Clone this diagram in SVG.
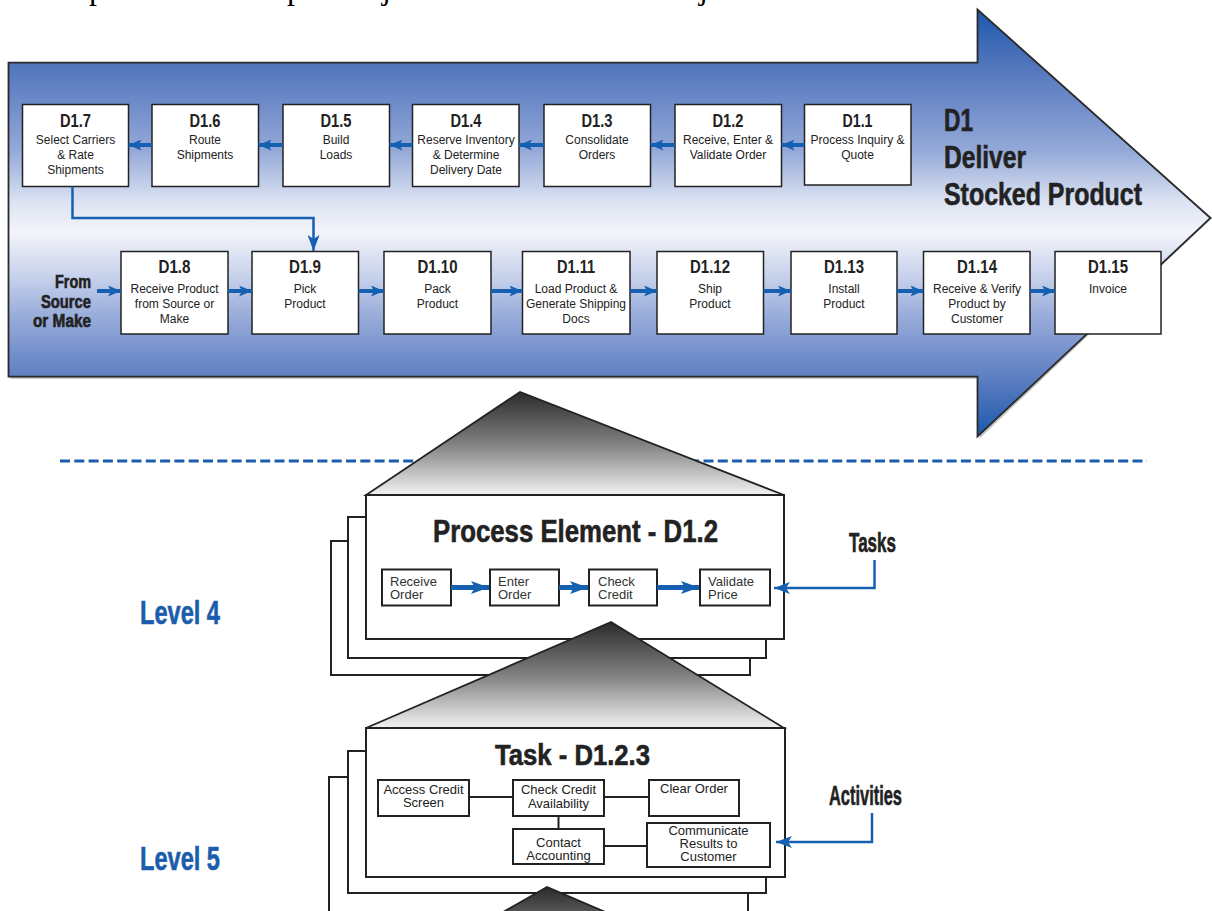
<svg xmlns="http://www.w3.org/2000/svg" width="1212" height="911" viewBox="0 0 1212 911">
<defs>
<linearGradient id="chev" gradientUnits="userSpaceOnUse" x1="0" y1="9.5" x2="0" y2="436.5">
<stop offset="0" stop-color="#1a59ad"/>
<stop offset="0.12" stop-color="#4e73ba"/>
<stop offset="0.2" stop-color="#6886c6"/>
<stop offset="0.33" stop-color="#94a9d8"/>
<stop offset="0.45" stop-color="#dbe2f2"/>
<stop offset="0.52" stop-color="#f4f5fa"/>
<stop offset="0.62" stop-color="#c9d3ec"/>
<stop offset="0.72" stop-color="#98acda"/>
<stop offset="0.82" stop-color="#6e8bc9"/>
<stop offset="0.87" stop-color="#5a7cc0"/>
<stop offset="1" stop-color="#1a59ad"/>
</linearGradient>
<linearGradient id="tri" x1="0" y1="0" x2="0" y2="1">
<stop offset="0" stop-color="#2b2b2b"/>
<stop offset="0.5" stop-color="#808080"/>
<stop offset="1" stop-color="#f2f2f2"/>
</linearGradient>
<marker id="ah" markerUnits="userSpaceOnUse" markerWidth="13" markerHeight="11" refX="13" refY="5.5" orient="auto">
<path d="M0,0 L13,5.5 L0,11 L3,5.5 Z" fill="#1560b0"/>
</marker>
<marker id="ahBig" markerUnits="userSpaceOnUse" markerWidth="18" markerHeight="13" refX="18" refY="6.5" orient="auto">
<path d="M0,0 L18,6.5 L0,13 L4,6.5 Z" fill="#1560b0"/>
</marker>
<marker id="ahThin" markerUnits="userSpaceOnUse" markerWidth="16" markerHeight="12" refX="16" refY="6" orient="auto">
<path d="M0,0 L16,6 L0,12 L4,6 Z" fill="#1560b0"/>
</marker>
<style>
.box{fill:#fff;stroke:#222;stroke-width:1.5}
.pbox{fill:#fff;stroke:#222;stroke-width:2}
.lbl{font-family:"Liberation Sans Narrow","Liberation Sans",Arial,sans-serif;font-weight:bold;font-size:19px;fill:#222;text-anchor:middle}
.bt{font-family:"Liberation Sans",Arial,sans-serif;font-size:12px;fill:#222;text-anchor:middle}
.big{font-family:"Liberation Sans Narrow","Liberation Sans",Arial,sans-serif;font-weight:bold;fill:#222;stroke:#222;stroke-width:0.6}
.lvl{font-family:"Liberation Sans Narrow","Liberation Sans",Arial,sans-serif;font-weight:bold;font-size:33px;fill:#1b5cad;stroke:#1b5cad;stroke-width:0.6}
.it{font-family:"Liberation Sans",Arial,sans-serif;font-size:13px;fill:#333}
.itc{font-family:"Liberation Sans",Arial,sans-serif;font-size:13px;fill:#222;text-anchor:middle}
.flow{fill:none;stroke:#1560b0;stroke-width:4;marker-end:url(#ah)}
.fat{fill:none;stroke:#1560b0;stroke-width:5;marker-end:url(#ahBig)}
.thin{fill:none;stroke:#1560b0;stroke-width:2.5;marker-end:url(#ahThin)}
.link{fill:none;stroke:#222;stroke-width:2}
.frag{font-family:"Liberation Serif","Times New Roman",serif;font-size:32px;fill:#000}
</style>
</defs>
<rect width="1212" height="911" fill="#fff"/>

<g id="page-text-fragment">
<text class="frag" x="89" y="-1">p</text>
<text class="frag" x="287" y="-1">p</text>
<text class="frag" x="382" y="-1">j</text>
<text class="frag" x="699" y="-1">j</text>
</g>

<g id="chevron">
<path d="M10.5,64.7 L979.5,64.7 L979.5,11.5 L1212,218 L979.5,438.5 L979.5,378.7 L10.5,378.7 Z" fill="#999" opacity="0.6"/>
<path d="M8.5,62.7 L977.5,62.7 L977.5,9.5 L1210.5,218 L977.5,436.5 L977.5,376.7 L8.5,376.7 Z" fill="url(#chev)" stroke="#2a2a2a" stroke-width="1.8"/>
<text class="big" x="944" y="131" font-size="32" textLength="29" lengthAdjust="spacingAndGlyphs">D1</text>
<text class="big" x="944" y="168" font-size="32" textLength="82" lengthAdjust="spacingAndGlyphs">Deliver</text>
<text class="big" x="944" y="205" font-size="32" textLength="198" lengthAdjust="spacingAndGlyphs">Stocked Product</text>
<text class="big" x="91" y="288" font-size="18" text-anchor="end" textLength="36" lengthAdjust="spacingAndGlyphs">From</text>
<text class="big" x="91" y="307.5" font-size="18" text-anchor="end" textLength="50" lengthAdjust="spacingAndGlyphs">Source</text>
<text class="big" x="91" y="326.5" font-size="18" text-anchor="end" textLength="58" lengthAdjust="spacingAndGlyphs">or Make</text>
</g>

<g id="D1.7"><rect class="box" x="22.5" y="104.5" width="106" height="82"/>
<text class="lbl" x="75.5" y="126.5" textLength="31" lengthAdjust="spacingAndGlyphs">D1.7</text>
<text class="bt" x="75.5" y="144">Select Carriers</text><text class="bt" x="75.5" y="159">&amp; Rate</text><text class="bt" x="75.5" y="174">Shipments</text></g>
<g id="D1.6"><rect class="box" x="152" y="104.5" width="106.5" height="82"/>
<text class="lbl" x="205" y="126.5" textLength="31" lengthAdjust="spacingAndGlyphs">D1.6</text>
<text class="bt" x="205" y="144">Route</text><text class="bt" x="205" y="159">Shipments</text></g>
<g id="D1.5"><rect class="box" x="283" y="104.5" width="106.5" height="82"/>
<text class="lbl" x="336" y="126.5" textLength="31" lengthAdjust="spacingAndGlyphs">D1.5</text>
<text class="bt" x="336" y="144">Build</text><text class="bt" x="336" y="159">Loads</text></g>
<g id="D1.4"><rect class="box" x="412.5" y="104.5" width="106.5" height="82"/>
<text class="lbl" x="466" y="126.5" textLength="31" lengthAdjust="spacingAndGlyphs">D1.4</text>
<text class="bt" x="466" y="144">Reserve Inventory</text><text class="bt" x="466" y="159">&amp; Determine</text><text class="bt" x="466" y="174">Delivery Date</text></g>
<g id="D1.3"><rect class="box" x="544" y="104.5" width="106.5" height="82"/>
<text class="lbl" x="597" y="126.5" textLength="31" lengthAdjust="spacingAndGlyphs">D1.3</text>
<text class="bt" x="597" y="144">Consolidate</text><text class="bt" x="597" y="159">Orders</text></g>
<g id="D1.2"><rect class="box" x="675" y="104.5" width="106.5" height="82"/>
<text class="lbl" x="728" y="126.5" textLength="31" lengthAdjust="spacingAndGlyphs">D1.2</text>
<text class="bt" x="728" y="144">Receive, Enter &amp;</text><text class="bt" x="728" y="159">Validate Order</text></g>
<g id="D1.1"><rect class="box" x="804.5" y="104.5" width="106.5" height="80.5"/>
<text class="lbl" x="857.5" y="126.5" textLength="30" lengthAdjust="spacingAndGlyphs">D1.1</text>
<text class="bt" x="857.5" y="144">Process Inquiry &amp;</text><text class="bt" x="857.5" y="159">Quote</text></g>

<g id="D1.8"><rect class="box" x="121" y="251.5" width="107" height="82.5"/>
<text class="lbl" x="174.5" y="273" textLength="32" lengthAdjust="spacingAndGlyphs">D1.8</text>
<text class="bt" x="174.5" y="292.5">Receive Product</text><text class="bt" x="174.5" y="307.5">from Source or</text><text class="bt" x="174.5" y="322.5">Make</text></g>
<g id="D1.9"><rect class="box" x="252" y="251.5" width="106.5" height="82.5"/>
<text class="lbl" x="305" y="273" textLength="32" lengthAdjust="spacingAndGlyphs">D1.9</text>
<text class="bt" x="305" y="292.5">Pick</text><text class="bt" x="305" y="307.5">Product</text></g>
<g id="D1.10"><rect class="box" x="384" y="251.5" width="107" height="82.5"/>
<text class="lbl" x="437.5" y="273" textLength="40" lengthAdjust="spacingAndGlyphs">D1.10</text>
<text class="bt" x="437.5" y="292.5">Pack</text><text class="bt" x="437.5" y="307.5">Product</text></g>
<g id="D1.11"><rect class="box" x="522.5" y="251.5" width="107.5" height="82.5"/>
<text class="lbl" x="576" y="273" textLength="38" lengthAdjust="spacingAndGlyphs">D1.11</text>
<text class="bt" x="576" y="292.5">Load Product &amp;</text><text class="bt" x="576" y="307.5">Generate Shipping</text><text class="bt" x="576" y="322.5">Docs</text></g>
<g id="D1.12"><rect class="box" x="657" y="251.5" width="106.5" height="82.5"/>
<text class="lbl" x="710" y="273" textLength="40" lengthAdjust="spacingAndGlyphs">D1.12</text>
<text class="bt" x="710" y="292.5">Ship</text><text class="bt" x="710" y="307.5">Product</text></g>
<g id="D1.13"><rect class="box" x="791" y="251.5" width="106" height="82.5"/>
<text class="lbl" x="844" y="273" textLength="40" lengthAdjust="spacingAndGlyphs">D1.13</text>
<text class="bt" x="844" y="292.5">Install</text><text class="bt" x="844" y="307.5">Product</text></g>
<g id="D1.14"><rect class="box" x="923.5" y="251.5" width="106.5" height="82.5"/>
<text class="lbl" x="977" y="273" textLength="40" lengthAdjust="spacingAndGlyphs">D1.14</text>
<text class="bt" x="977" y="292.5">Receive &amp; Verify</text><text class="bt" x="977" y="307.5">Product by</text><text class="bt" x="977" y="322.5">Customer</text></g>
<g id="D1.15"><rect class="box" x="1055" y="251.5" width="106" height="82.5"/>
<text class="lbl" x="1108" y="273" textLength="40" lengthAdjust="spacingAndGlyphs">D1.15</text>
<text class="bt" x="1108" y="292.5">Invoice</text></g>

<g id="connectors-top">
<line class="flow" x1="804.5" y1="145" x2="781.5" y2="145"/>
<line class="flow" x1="675" y1="145" x2="650.5" y2="145"/>
<line class="flow" x1="544" y1="145" x2="519" y2="145"/>
<line class="flow" x1="412.5" y1="145" x2="389.5" y2="145"/>
<line class="flow" x1="283" y1="145" x2="258.5" y2="145"/>
<line class="flow" x1="152" y1="145" x2="128.5" y2="145"/>
<path class="thin" d="M72.5,186.5 V218 H313.5 V251"/>
<line class="flow" x1="97" y1="291" x2="121" y2="291"/>
<line class="flow" x1="228" y1="291" x2="252" y2="291"/>
<line class="flow" x1="358.5" y1="291" x2="384" y2="291"/>
<line class="flow" x1="491" y1="291" x2="522.5" y2="291"/>
<line class="flow" x1="630" y1="291" x2="657" y2="291"/>
<line class="flow" x1="763.5" y1="291" x2="791" y2="291"/>
<line class="flow" x1="897" y1="291" x2="923.5" y2="291"/>
<line class="flow" x1="1030" y1="291" x2="1055" y2="291"/>
</g>

<g id="divider">
<line x1="60" y1="461" x2="1147" y2="461" stroke="#1b5cad" stroke-width="3" stroke-dasharray="10,4.3"/>
</g>

<g id="level-labels">
<text class="lvl" x="140" y="624" textLength="80" lengthAdjust="spacingAndGlyphs">Level 4</text>
<text class="lvl" x="140" y="870" textLength="80" lengthAdjust="spacingAndGlyphs">Level 5</text>
</g>

<g id="process-element">
<rect class="pbox" x="331" y="541" width="419" height="134"/>
<rect class="pbox" x="348" y="517" width="418" height="141"/>
<rect class="pbox" x="366" y="495" width="418" height="144"/>
<polygon points="520,392 366,495 784,495" fill="url(#tri)" stroke="#222" stroke-width="1.8"/>
<text class="big" x="575.5" y="542" font-size="32" text-anchor="middle" textLength="285" lengthAdjust="spacingAndGlyphs">Process Element - D1.2</text>
</g>
<g id="task-receive"><rect class="pbox" x="382" y="569.5" width="69" height="36"/><text class="it" x="390" y="585.5">Receive</text><text class="it" x="390" y="599">Order</text></g>
<g id="task-enter"><rect class="pbox" x="490" y="569.5" width="69" height="36"/><text class="it" x="498" y="585.5">Enter</text><text class="it" x="498" y="599">Order</text></g>
<g id="task-check"><rect class="pbox" x="589" y="569.5" width="68" height="36"/><text class="it" x="598" y="585.5">Check</text><text class="it" x="598" y="599">Credit</text></g>
<g id="task-validate"><rect class="pbox" x="700" y="569.5" width="70" height="36"/><text class="it" x="708" y="585.5">Validate</text><text class="it" x="708" y="599">Price</text></g>
<g id="tasks-label"><text class="big" x="849" y="552" font-size="27" textLength="47" lengthAdjust="spacingAndGlyphs">Tasks</text></g>

<g id="task-element">
<rect class="pbox" x="329" y="777" width="419" height="160"/>
<rect class="pbox" x="348" y="751" width="418" height="142"/>
<polygon points="611,622 366,728 784,728" fill="url(#tri)" stroke="#222" stroke-width="1.8"/>
<rect class="pbox" x="366" y="728" width="419" height="149"/>
<text class="big" x="572.5" y="765" font-size="30" text-anchor="middle" textLength="155" lengthAdjust="spacingAndGlyphs">Task - D1.2.3</text>
</g>
<g id="act-access"><rect class="pbox" x="378" y="780" width="91" height="36"/><text class="itc" x="423.5" y="794">Access Credit</text><text class="itc" x="423.5" y="807">Screen</text></g>
<g id="act-check"><rect class="pbox" x="513" y="780" width="91" height="36"/><text class="itc" x="558.5" y="794">Check Credit</text><text class="itc" x="558.5" y="807.5">Availability</text></g>
<g id="act-clear"><rect class="pbox" x="649" y="780" width="90" height="36"/><text class="itc" x="694" y="793">Clear Order</text></g>
<g id="act-contact"><rect class="pbox" x="513" y="829" width="91" height="35"/><text class="itc" x="558.5" y="846.5">Contact</text><text class="itc" x="558.5" y="860">Accounting</text></g>
<g id="act-communicate"><rect class="pbox" x="647" y="823" width="123" height="44"/><text class="itc" x="708.5" y="835" font-size="11.2">Communicate</text><text class="itc" x="708.5" y="848" font-size="11.2">Results to</text><text class="itc" x="708.5" y="861" font-size="11.2">Customer</text></g>
<g id="activities-label"><text class="big" x="829" y="805" font-size="27" textLength="73" lengthAdjust="spacingAndGlyphs">Activities</text></g>

<g id="next-level">
<polygon points="547,887 372,987 780,987" fill="url(#tri)" stroke="#222" stroke-width="1.8"/>
</g>

<g id="connectors-bottom">
<line class="fat" x1="451" y1="587.5" x2="489" y2="587.5"/>
<line class="fat" x1="559" y1="587.5" x2="588" y2="587.5"/>
<line class="fat" x1="657" y1="587.5" x2="699" y2="587.5"/>
<path class="thin" d="M874.5,560 V588 H774"/>
<path class="thin" d="M872,813 V842 H776"/>
<line class="link" x1="469" y1="797" x2="513" y2="797"/>
<line class="link" x1="604" y1="797" x2="649" y2="797"/>
<line class="link" x1="558.5" y1="816" x2="558.5" y2="829"/>
<line class="link" x1="604" y1="846" x2="647" y2="846"/>
</g>
</svg>
